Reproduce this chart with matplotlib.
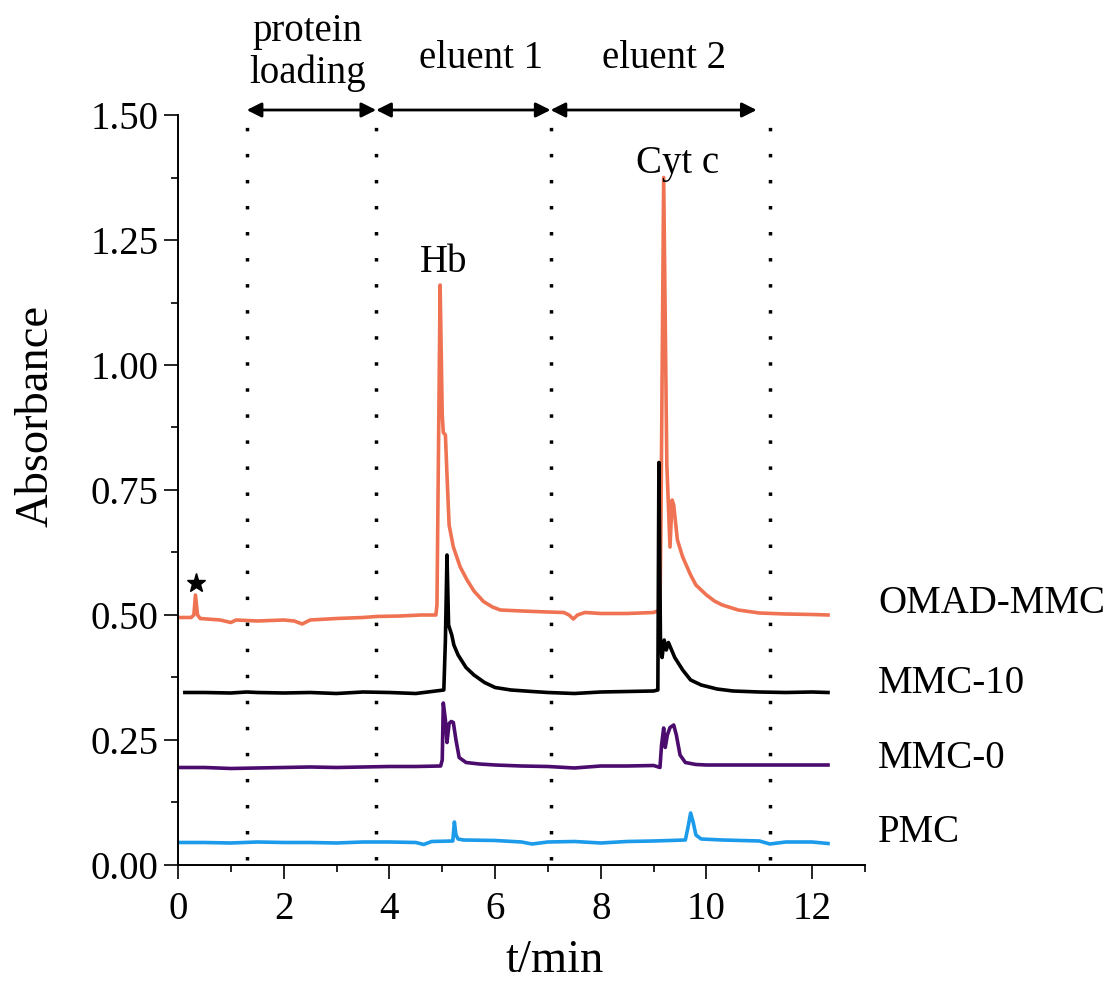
import numpy as np
import matplotlib
matplotlib.use('Agg')
import matplotlib.pyplot as plt
from matplotlib.ticker import MultipleLocator, FormatStrFormatter

plt.rcParams['font.family'] = ['Liberation Serif', 'DejaVu Serif']

# OMAD-MMC (orange)
orange_t = [0, 0.25, 0.3, 0.33, 0.37, 0.42, 0.8, 1.0, 1.1, 1.5, 2.0, 2.2, 2.35, 2.5, 3.0, 3.5, 3.75,
            4.2, 4.6, 4.88, 4.9, 4.96, 5.0, 5.02, 5.06, 5.09, 5.13, 5.21, 5.34, 5.47, 5.6, 5.78,
            5.95, 6.1, 6.5, 7.0, 7.3, 7.4, 7.48, 7.56, 7.7, 8.0, 8.5, 9.0, 9.12, 9.14, 9.19, 9.25,
            9.31, 9.35, 9.38, 9.45, 9.55, 9.7, 9.8, 10.0, 10.15, 10.3, 10.6, 11.0, 11.5, 12.0, 12.3]
orange_y = [0.495, 0.495, 0.50, 0.54, 0.50, 0.493, 0.49, 0.485, 0.49, 0.488, 0.49, 0.488, 0.482, 0.49,
            0.493, 0.495, 0.497, 0.498, 0.50, 0.50, 0.52, 1.16, 0.90, 0.865, 0.86, 0.78, 0.68,
            0.636, 0.596, 0.57, 0.548, 0.527, 0.516, 0.51, 0.508, 0.506, 0.505, 0.50, 0.492, 0.50,
            0.505, 0.503, 0.503, 0.505, 0.51, 0.70, 1.375, 0.80, 0.636, 0.73, 0.72, 0.65, 0.616,
            0.58, 0.56, 0.54, 0.528, 0.52, 0.51, 0.504, 0.502, 0.501, 0.50]

# MMC-10 (black)
black_t = [0.13, 0.5, 1.0, 1.3, 1.5, 2.0, 2.5, 3.0, 3.5, 4.0, 4.5, 5.03, 5.06, 5.09, 5.12, 5.15,
           5.18, 5.22, 5.3, 5.45, 5.6, 5.8, 6.0, 6.3, 6.7, 7.0, 7.5, 8.0, 8.5, 9.0, 9.08, 9.1,
           9.13, 9.16, 9.2, 9.24, 9.28, 9.32, 9.4, 9.55, 9.7, 9.9, 10.2, 10.5, 11.0, 11.5, 12.0, 12.3]
black_y = [0.345, 0.345, 0.344, 0.346, 0.345, 0.344, 0.345, 0.343, 0.346, 0.345, 0.343, 0.35, 0.45,
           0.62, 0.48, 0.47, 0.46, 0.44, 0.42, 0.395, 0.38, 0.365, 0.355, 0.35, 0.347, 0.345, 0.343,
           0.346, 0.347, 0.348, 0.35, 0.805, 0.44, 0.415, 0.45, 0.43, 0.445, 0.435, 0.415, 0.39,
           0.37, 0.36, 0.352, 0.348, 0.346, 0.345, 0.346, 0.345]

# MMC-0 (purple)
purple_t = [0, 0.5, 1.0, 1.5, 2.0, 2.5, 3.0, 3.5, 4.0, 4.5, 4.97, 5.0, 5.02, 5.06, 5.09, 5.13, 5.17,
            5.21, 5.26, 5.32, 5.45, 5.7, 6.0, 6.5, 7.0, 7.5, 8.0, 8.5, 9.0, 9.12, 9.15, 9.19, 9.22,
            9.26, 9.31, 9.38, 9.43, 9.5, 9.6, 9.8, 10.0, 10.5, 11.0, 11.5, 12.0, 12.3]
purple_y = [0.195, 0.195, 0.193, 0.194, 0.195, 0.196, 0.195, 0.196, 0.197, 0.197, 0.198, 0.21, 0.324,
            0.29, 0.245, 0.283, 0.287, 0.285, 0.25, 0.215, 0.205, 0.202, 0.2, 0.198, 0.197, 0.194,
            0.198, 0.198, 0.199, 0.195, 0.24, 0.274, 0.235, 0.26, 0.275, 0.28, 0.26, 0.22, 0.205,
            0.201, 0.2, 0.2, 0.2, 0.2, 0.2, 0.2]

# PMC (blue)
blue_t = [0, 0.5, 1.0, 1.5, 2.0, 2.5, 3.0, 3.5, 4.0, 4.5, 4.65, 4.8, 5.2, 5.23, 5.26, 5.3, 5.4, 6.0,
          6.5, 6.7, 7.0, 7.5, 8.0, 8.5, 9.0, 9.6, 9.65, 9.7, 9.75, 9.8, 9.9, 10.3, 11.0, 11.2,
          11.5, 12.0, 12.3]
blue_y = [0.045, 0.045, 0.044, 0.046, 0.045, 0.045, 0.044, 0.046, 0.046, 0.045, 0.041, 0.047, 0.048,
          0.086, 0.06, 0.052, 0.05, 0.049, 0.046, 0.042, 0.046, 0.047, 0.044, 0.047, 0.048, 0.05,
          0.075, 0.104, 0.085, 0.06, 0.052, 0.05, 0.048, 0.042, 0.046, 0.046, 0.043]

series_names = ['OMAD-MMC', 'MMC-10', 'MMC-0', 'PMC']
series_colors = ['#EF7352', '#000000', '#4B0C6E', '#1B9BEA']
label_y = [0.503, 0.344, 0.194, 0.046]

stage_edges = [1.3, 3.75, 7.05, 11.2]
arrow_spans = [(1.3, 3.75), (3.75, 7.05), (7.05, 10.95)]
stage_labels = ['protein\nloading', 'eluent 1', 'eluent 2']
stage_label_x = [2.45, 5.74, 9.2]
stage_label_y = [1.564, 1.594, 1.594]

fig = plt.figure(figsize=(11.16, 9.88), dpi=100)
ax = fig.add_axes([0.1595, 0.1245, 0.6156, 0.7591])

data = [(orange_t, orange_y), (black_t, black_y), (purple_t, purple_y), (blue_t, blue_y)]
for (t, y), c in zip(data, series_colors):
    ax.plot(t, y, color=c, lw=2.6, solid_joinstyle='round')

for xe in stage_edges:
    ax.plot([xe, xe], [0.01, 1.49], color='black', lw=2.5, linestyle=(0, (1, 6.5)),
            dash_capstyle='butt', clip_on=False)

for (a, b) in arrow_spans:
    ax.annotate('', xy=(b, 1.51), xytext=(a, 1.51), xycoords='data',
                arrowprops=dict(arrowstyle='<|-|>', color='black', lw=2, mutation_scale=22,
                                shrinkA=0, shrinkB=0), annotation_clip=False)
for lab, lx, ly in zip(stage_labels, stage_label_x, stage_label_y):
    ax.text(lx, ly, lab, ha='center', va='baseline', fontsize=28, linespacing=1.15,
            multialignment='center', clip_on=False)

ax.text(5.02, 1.186, 'Hb', ha='center', va='baseline', fontsize=28)
ax.text(9.45, 1.385, 'Cyt c', ha='center', va='baseline', fontsize=28)
ax.plot([0.34], [0.564], marker='*', color='black', markersize=14)

for name, ly in zip(series_names, label_y):
    ax.text(13.25, ly, name, ha='left', va='baseline', fontsize=28, clip_on=False)

ax.set_xlim(0, 13)
ax.set_ylim(0, 1.5)
ax.xaxis.set_major_locator(MultipleLocator(2))
ax.xaxis.set_minor_locator(MultipleLocator(1))
ax.yaxis.set_major_locator(MultipleLocator(0.25))
ax.yaxis.set_minor_locator(MultipleLocator(0.125))
ax.yaxis.set_major_formatter(FormatStrFormatter('%.2f'))
ax.tick_params(which='major', direction='out', length=10, width=1.2, labelsize=28)
ax.tick_params(axis='x', which='major', pad=9)
ax.tick_params(axis='y', which='major', pad=4)
ax.tick_params(which='minor', direction='out', length=5, width=1.2)
for s in ['top', 'right']:
    ax.spines[s].set_visible(False)
for s in ['left', 'bottom']:
    ax.spines[s].set_linewidth(1.4)

ax.set_xlabel('t/min', fontsize=33.5)
ax.xaxis.set_label_coords(0.549, -0.099)
ax.set_ylabel('Absorbance', fontsize=33.5)
ax.yaxis.set_label_coords(-0.175, 0.599)

fig.savefig('out.png', dpi=100)
